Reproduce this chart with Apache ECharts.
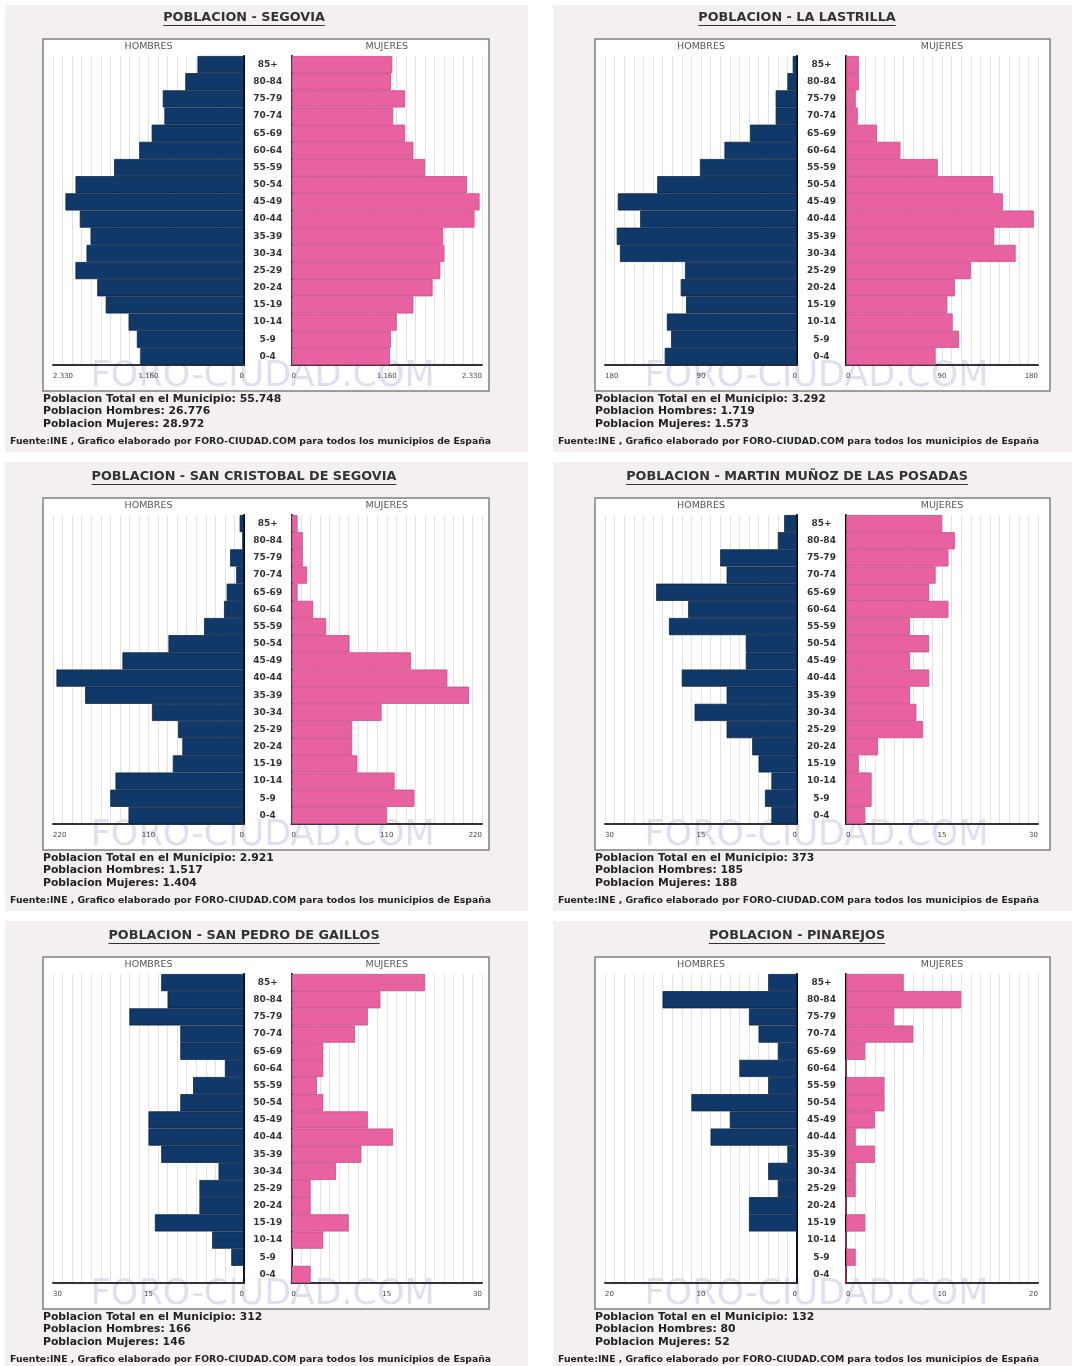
<!DOCTYPE html>
<html><head><meta charset="utf-8">
<script src="https://cdn.jsdelivr.net/npm/echarts@6/dist/echarts.min.js"></script>
<style>html,body{margin:0;padding:0;background:#fff}#c{width:1076px;height:1366px}</style>
</head><body><div id="c"></div>
<script>
// ---------------- DATA ----------------
const ageGroups = ['0-4','5-9','10-14','15-19','20-24','25-29','30-34','35-39','40-44','45-49','50-54','55-59','60-64','65-69','70-74','75-79','80-84','85+'];

const municipios = ['SEGOVIA','LA LASTRILLA','SAN CRISTOBAL DE SEGOVIA','MARTIN MUÑOZ DE LAS POSADAS','SAN PEDRO DE GAILLOS','PINAREJOS'];
const totalPop   = ['55.748','3.292','2.921','373','312','132'];
const totalMen   = ['26.776','1.719','1.517','185','166','80'];
const totalWomen = ['28.972','1.573','1.404','188','146','52'];

const axisMax    = [2330, 180, 220, 30, 30, 20];
const tickLabels = [['0','1.160','2.330'], ['0','90','180'], ['0','110','220'], ['0','15','30'], ['0','15','30'], ['0','10','20']];

const segoviaMen     = [1265,1307,1408,1687,1790,2056,1921,1872,2003,2178,2055,1585,1278,1126,971,991,716,567];
const segoviaWomen   = [1203,1216,1286,1491,1725,1819,1869,1852,2238,2300,2147,1634,1491,1388,1244,1388,1216,1232];
const lastrillaMen   = [124,118,122,104,109,105,166,169,147,168,131,91,68,44,20,20,9,4];
const lastrillaWomen = [84,106,100,95,102,117,159,139,176,147,138,86,51,29,11,9,12,12];
const cristobalMen   = [133,154,148,82,71,76,106,183,216,140,87,46,23,20,9,16,2,5];
const cristobalWomen = [110,142,119,76,70,70,104,205,180,138,67,40,25,7,18,13,13,7];
const martinMen      = [4,5,4,6,7,11,16,11,18,8,8,20,17,22,11,12,3,2];
const martinWomen    = [3,4,4,2,5,12,11,10,13,10,13,10,16,13,14,16,17,15];
const pedroMen       = [0,2,5,14,7,7,4,13,15,15,10,8,3,10,10,18,12,13];
const pedroWomen     = [3,0,5,9,3,3,7,11,16,12,5,4,5,5,10,12,14,21];
const pinarejosMen   = [0,0,0,5,5,2,3,1,9,7,11,3,6,2,4,5,14,3];
const pinarejosWomen = [0,1,0,2,0,1,1,3,1,3,4,4,0,2,7,5,12,6];

const menSeries   = [segoviaMen, lastrillaMen, cristobalMen, martinMen, pedroMen, pinarejosMen];
const womenSeries = [segoviaWomen, lastrillaWomen, cristobalWomen, martinWomen, pedroWomen, pinarejosWomen];

// ---------------- LAYOUT ----------------
const FONT = '"DejaVu Sans", Verdana, sans-serif';
const cols = [
  {Lz:244, Rz:291.5, axL:53,  axR:482,  fx0:43,  fx1:489,  bg0:5,   bg1:528,  textX:43,  srcX:10},
  {Lz:797, Rz:846,   axL:605, axR:1038, fx0:595, fx1:1050, bg0:553, bg1:1072, textX:595, srcX:558}
];
const rowStep = 459;
const bgRows = [[5,452],[462,911],[921,1366]];
const NAVY = '#10396a', NAVY_B = '#0a2446';
const PINK = '#e862a1', PINK_B = '#c64b87';

const mctx = document.createElement('canvas').getContext('2d');
function textW(t, font){ mctx.font = font; return mctx.measureText(t).width; }

const grids = [], xAxes = [], yAxes = [], series = [], graphics = [];

function txt(x, y, text, size, weight, fill, align, z){
  return {type:'text', x:x, y:y, z:z||10, silent:true,
    style:{text:text, fontSize:size, fontWeight:weight, fontFamily:FONT, fill:fill,
           textAlign:align, align:align, textVerticalAlign:'middle', verticalAlign:'middle'}};
}

for (let p = 0; p < 6; p++) {
  const c = cols[p % 2];
  const r = Math.floor(p / 2);
  const oy = r * rowStep;
  const top = 56 + oy, h = 309;
  const M = axisMax[p];
  const ticks = tickLabels[p];

  // panel background + plot frame
  graphics.push({type:'rect', z:-20, silent:true, shape:{x:c.bg0, y:bgRows[r][0], width:c.bg1-c.bg0, height:bgRows[r][1]-bgRows[r][0]}, style:{fill:'#f4f0f1'}});
  graphics.push({type:'rect', z:-15, silent:true, shape:{x:c.fx0, y:39+oy, width:c.fx1-c.fx0, height:352}, style:{fill:'#ffffff', stroke:'#808080', lineWidth:1.5}});
  // watermark
  graphics.push(txt((c.Lz+c.Rz)/2 - 5, 377+oy, 'FORO-CIUDAD.COM', 35, 'normal', 'rgba(196,196,226,0.55)', 'center', -5));
  // title + underline
  const title = 'POBLACION - ' + municipios[p];
  const tw = textW(title, 'bold 12.8px ' + FONT);
  graphics.push(txt(c.Lz, 18+oy, title, 12.8, 'bold', '#333', 'center'));
  graphics.push({type:'line', z:10, silent:true, shape:{x1:c.Lz - tw/2, y1:25.5+oy, x2:c.Lz + tw/2, y2:25.5+oy}, style:{stroke:'#333', lineWidth:1}});
  // side labels
  graphics.push(txt((c.axL+c.Lz)/2, 47+oy, 'HOMBRES', 9.5, 'normal', '#555', 'center'));
  graphics.push(txt((c.Rz+c.axR)/2, 47+oy, 'MUJERES', 9.5, 'normal', '#555', 'center'));
  // footer
  graphics.push(txt(c.textX, 399+oy, 'Poblacion Total en el Municipio: ' + totalPop[p], 10.8, 'bold', '#222', 'left'));
  graphics.push(txt(c.textX, 411.5+oy, 'Poblacion Hombres: ' + totalMen[p], 10.8, 'bold', '#222', 'left'));
  graphics.push(txt(c.textX, 424+oy, 'Poblacion Mujeres: ' + totalWomen[p], 10.8, 'bold', '#222', 'left'));
  graphics.push(txt(c.srcX, 442+oy, 'Fuente:INE , Grafico elaborado por FORO-CIUDAD.COM para todos los municipios de España', 9.3, 'bold', '#222', 'left'));

  const gi = grids.length;
  grids.push({left:c.axL, top:top, width:c.Lz - c.axL, height:h});
  grids.push({left:c.Rz, top:top, width:c.axR - c.Rz, height:h});

  const xBase = (inverse, idx) => ({
    gridIndex: idx, type:'value', inverse: inverse, min:0, max:M, interval:M/2,
    axisLine:{show:true, onZero:false, lineStyle:{color:'#333', width:2}},
    axisTick:{show:false},
    axisLabel:{fontSize:7, color:'#444', fontFamily:FONT, margin:8,
      formatter:(v, i) => ticks[i] !== undefined ? ticks[i] : '',
      alignMinLabel: inverse ? 'right' : 'left', alignMaxLabel: inverse ? 'left' : 'right'},
    splitLine:{show:true, lineStyle:{color:'#e3e3e3', width:1}},
    minorTick:{show:false, splitNumber:10},
    minorSplitLine:{show:true, lineStyle:{color:'#e3e3e3', width:1}}
  });
  xAxes.push(xBase(true, gi));
  xAxes.push(xBase(false, gi+1));

  yAxes.push({gridIndex:gi, type:'category', data:ageGroups, position:'right',
    axisLine:{show:true, onZero:false, lineStyle:{color:'#000', width:2}}, axisTick:{show:false}, axisLabel:{show:false}});
  yAxes.push({gridIndex:gi+1, type:'category', data:ageGroups, position:'left',
    axisLine:{show:true, onZero:false, lineStyle:{color:'#000', width:2}}, axisTick:{show:false},
    axisLabel:{show:true, align:'center', margin:(c.Rz - c.Lz)/2, fontSize:9, fontWeight:'bold', color:'#333', fontFamily:FONT}});

  series.push({type:'bar', name:'Hombres', xAxisIndex:gi, yAxisIndex:gi, data:menSeries[p],
    barCategoryGap:'0%', itemStyle:{color:NAVY, borderColor:NAVY_B, borderWidth:0.8}, silent:true});
  series.push({type:'bar', name:'Mujeres', xAxisIndex:gi+1, yAxisIndex:gi+1, data:womenSeries[p],
    barCategoryGap:'0%', itemStyle:{color:PINK, borderColor:PINK_B, borderWidth:0.8}, silent:true});
}

const chart = echarts.init(document.getElementById('c'), null, {renderer:'canvas'});
chart.setOption({
  animation:false,
  backgroundColor:'#ffffff',
  grid:grids, xAxis:xAxes, yAxis:yAxes, series:series,
  graphic:{elements:graphics}
});
</script></body></html>
